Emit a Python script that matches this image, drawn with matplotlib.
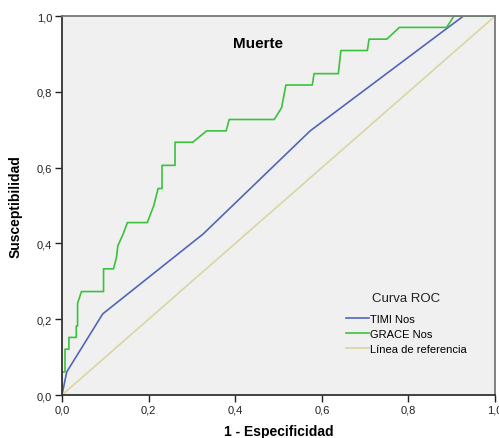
import matplotlib
matplotlib.use("Agg")
import matplotlib.pyplot as plt
from matplotlib.ticker import FuncFormatter

plt.rcParams['font.family'] = ['Liberation Sans', 'DejaVu Sans']

# curve points (1 - especificidad, susceptibilidad)
timi_x = [0.0, 0.011, 0.094, 0.326, 0.573, 0.887, 0.927, 1.0]
timi_y = [0.0, 0.061, 0.214, 0.425, 0.697, 0.966, 1.0, 1.0]

grace_x = [0.0, 0.0, 0.007, 0.007, 0.016, 0.016, 0.033, 0.033, 0.036, 0.036,
           0.045, 0.096, 0.096, 0.119, 0.126, 0.129, 0.141, 0.141, 0.151, 0.151,
           0.197, 0.212, 0.222, 0.231, 0.231, 0.261, 0.261, 0.302, 0.334, 0.379,
           0.386, 0.490, 0.507, 0.517, 0.578, 0.582, 0.638, 0.644, 0.705, 0.709,
           0.750, 0.779, 0.888, 0.905, 1.0]
grace_y = [0.0, 0.061, 0.061, 0.121, 0.121, 0.152, 0.152, 0.182, 0.182, 0.242,
           0.273, 0.273, 0.333, 0.333, 0.364, 0.394, 0.424, 0.424, 0.455, 0.455,
           0.455, 0.500, 0.545, 0.545, 0.606, 0.606, 0.667, 0.667, 0.697, 0.697,
           0.727, 0.727, 0.758, 0.818, 0.818, 0.848, 0.848, 0.909, 0.909, 0.939,
           0.939, 0.970, 0.970, 1.0, 1.0]

ref_x = [0.0, 1.0]
ref_y = [0.0, 1.0]

ticks = [0.0, 0.2, 0.4, 0.6, 0.8, 1.0]

fig = plt.figure(figsize=(4.99, 4.39), dpi=100)
ax = fig.add_axes([0.1242, 0.0979, 0.868, 0.8633])
ax.set_facecolor('#f0f0f0')

ax.plot(timi_x, timi_y, color='#5266b6', lw=1.2, label='TIMI Nos')
ax.plot(grace_x, grace_y, color='#3cc13c', lw=1.2, label='GRACE Nos')
ax.plot(ref_x, ref_y, color='#dad5a3', lw=1.2, label='Línea de referencia')

ax.set_xlim(0, 1)
ax.set_ylim(0, 1)
ax.set_xticks(ticks)
ax.set_yticks(ticks)
fmt = FuncFormatter(lambda v, p: f'{v:.1f}'.replace('.', ','))
ax.xaxis.set_major_formatter(fmt)
ax.yaxis.set_major_formatter(fmt)
ax.tick_params(direction='out', length=5, width=1, labelsize=8,
               colors='#222222', top=False, right=False, pad=2)

for s in ['left', 'bottom']:
    ax.spines[s].set_color('#333333')
    ax.spines[s].set_linewidth(1.3)
for s in ['top', 'right']:
    ax.spines[s].set_color('#777777')
    ax.spines[s].set_linewidth(1.3)

ax.text(0.453, 0.929, 'Muerte', fontsize=11, fontweight='bold',
        ha='center', va='center', transform=ax.transAxes)

ax.set_xlabel('1 - Especificidad', fontsize=10, fontweight='bold', labelpad=7)
ax.set_ylabel('Susceptibilidad', fontsize=10, fontweight='bold', labelpad=10)

leg = ax.legend(title='Curva ROC', loc='center', bbox_to_anchor=(0.795, 0.19),
                frameon=False, fontsize=8, title_fontsize=9.5,
                handlelength=2.1, handletextpad=0.1, labelspacing=0.45)
leg.get_title().set_color('#222222')
leg._legend_box.sep = 7

fig.savefig('out.png', dpi=100)
